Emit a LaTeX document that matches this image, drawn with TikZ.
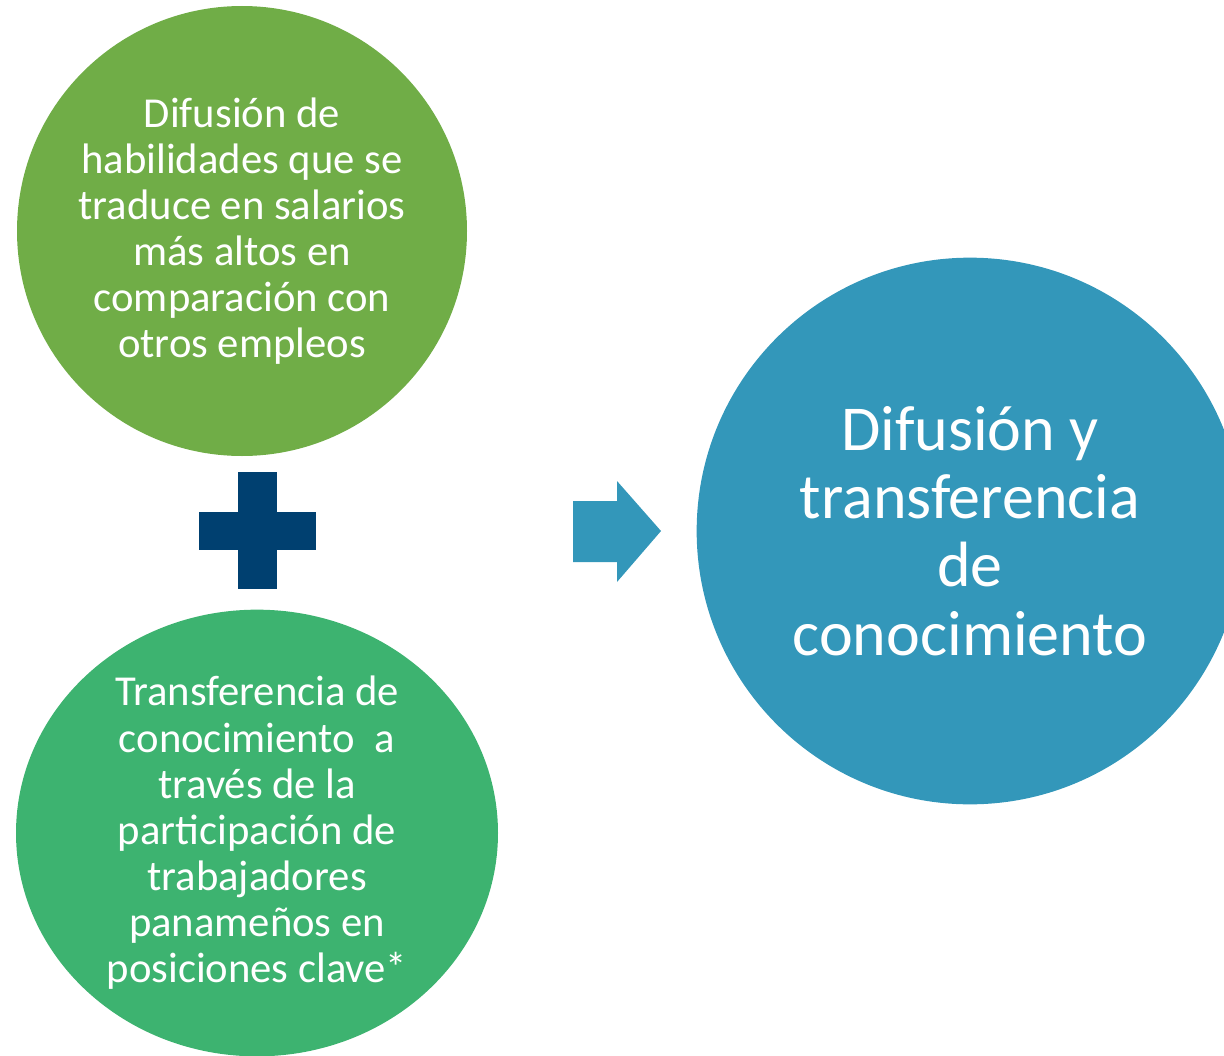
\documentclass[tikz,border=0pt]{standalone}
\usepackage{fontspec}
\setmainfont{Carlito}
\usetikzlibrary{shapes.geometric}
\definecolor{verdehoja}{RGB}{112,173,71}
\definecolor{verdemar}{RGB}{61,179,112}
\definecolor{azulclaro}{RGB}{51,151,186}
\definecolor{azuloscuro}{RGB}{0,64,112}
\tikzset{x=0.75pt, y=-0.75pt,
  every node/.style={text=white, align=center, inner sep=0pt},
  burbuja/.style={fill=#1, draw=none},
  textochico/.style={font=\fontsize{32}{34.6}\selectfont},
  textogrande/.style={font=\fontsize{48}{51.3}\selectfont}}

\begin{document}
\begin{tikzpicture}
       \useasboundingbox (0,0) rectangle (1224,1056);
       \clip (0,0) rectangle (1224,1056);
       % las dos burbujas verdes
       \node[burbuja=verdehoja, circle, minimum size=337.5pt, textochico] (habilidades) at (242,231)
        {Difusión de\\habilidades que se\\traduce en salarios\\más altos en\\comparación con\\otros empleos};
       \node[burbuja=verdemar, ellipse, minimum width=361.5pt, minimum height=335pt, textochico] (transferencia) at (257,833)
        {Transferencia de\\conocimiento\ \ a\\través de la\\participación de\\trabajadores\\panameños en\\posiciones clave*};
       % signo mas
       \fill[azuloscuro] (238,472) rectangle (277,589);
       \fill[azuloscuro] (199,512) rectangle (316,550);
       % flecha
       \fill[azulclaro] (573,501) -- (617,501) -- (617,481) -- (661,531) -- (617,582) -- (617,562) -- (573,562) -- cycle;
       % burbuja azul
       \node[burbuja=azulclaro, circle, minimum size=410pt, textogrande] (difusion) at (970,531)
        {Difusión y\\transferencia\\de\\conocimiento};
      \end{tikzpicture}
\end{document}
